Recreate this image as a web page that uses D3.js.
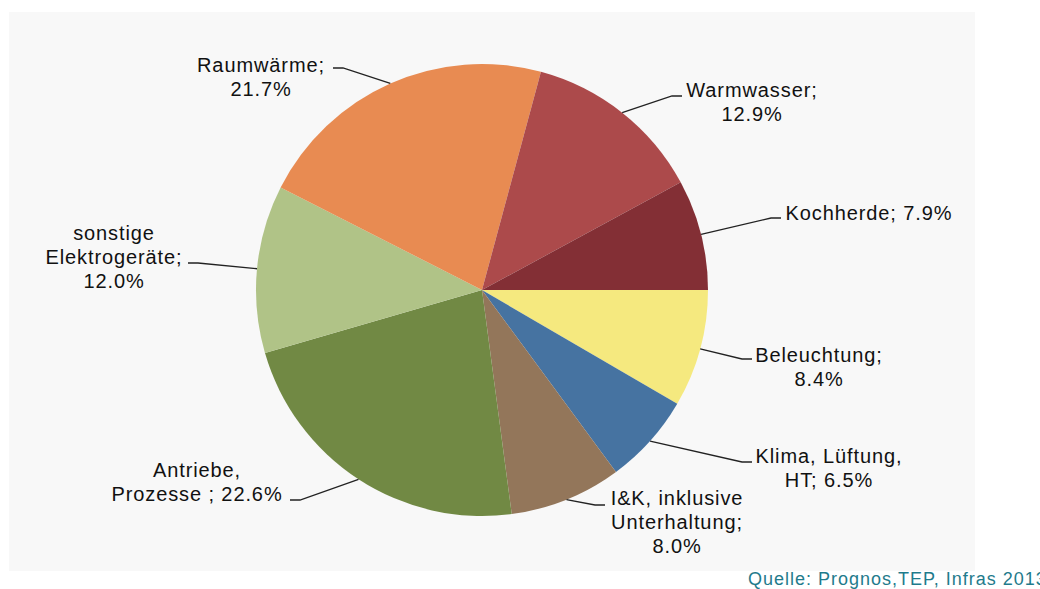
<!DOCTYPE html>
<html>
<head>
<meta charset="utf-8">
<script src="https://cdn.jsdelivr.net/npm/d3@7"></script>
<style>
  body { margin: 0; background: #fff; }
  svg text { font-family: "Liberation Sans", Arial, sans-serif; }
</style>
</head>
<body>
<svg></svg>
<script>
// data, clockwise from 3 o'clock
let categories = ["Beleuchtung", "Klima, Lüftung, HT", "I&K, inklusive Unterhaltung", "Antriebe, Prozesse",
                  "sonstige Elektrogeräte", "Raumwärme", "Warmwasser", "Kochherde"],
    shares     = [8.4, 6.5, 8.0, 22.6, 12.0, 21.7, 12.9, 7.9],
    labelText  = ["Beleuchtung;|{v}", "Klima, Lüftung,|HT; {v}", "I&K, inklusive|Unterhaltung;|{v}",
                  "Antriebe,|Prozesse ; {v}", "sonstige|Elektrogeräte;|{v}", "Raumwärme;|{v}",
                  "Warmwasser;|{v}", "Kochherde; {v}"],
    colors     = ["#f5e97f", "#4673a1", "#93765a", "#718944", "#b0c387", "#e88b52", "#ac4a4b", "#832f35"],
    source     = "Quelle: Prognos,TEP, Infras 2013";

// label layout: centre x, first baseline, leader end point, elbow side
let labelPos = [
  {x: 819, y: 362, ex: 752, ey: 359, side: -1},
  {x: 829, y: 463, ex: 752, ey: 462, side: -1},
  {x: 677, y: 505, ex: 605, ey: 505, side: -1},
  {x: 197, y: 477, ex: 290, ey: 500, side: 1},
  {x: 114, y: 240, ex: 188, ey: 263, side: 1},
  {x: 261, y: 72,  ex: 333, ey: 68,  side: 1},
  {x: 752, y: 97,  ex: 682, ey: 96,  side: -1},
  {x: 869, y: 220, ex: 781, ey: 218, side: -1}
];

let width = 1040, height = 589,
    cx = 482, cy = 290, radius = 226, lineHeight = 24,
    svg = d3.select("svg").attr("width", width).attr("height", height);

svg.append("rect")
  .attr("x", 9).attr("y", 12)
  .attr("width", 966).attr("height", 559)
  .attr("fill", "#f8f8f8");

let pie = d3.pie().sort(null)
      .startAngle(Math.PI / 2).endAngle(Math.PI / 2 + 2 * Math.PI),
    arc = d3.arc().innerRadius(0).outerRadius(radius),
    arcs = pie(shares),
    g = svg.append("g").attr("transform", `translate(${cx},${cy})`);

g.selectAll("path")
  .data(arcs)
  .enter()
  .append("path")
  .attr("d", arc)
  .attr("fill", (d, i) => colors[i]);

// leader lines: from the rim at the slice's mid angle to the label
svg.selectAll("polyline.leader")
  .data(arcs)
  .enter()
  .append("polyline")
  .classed("leader", true)
  .attr("points", (d, i) => {
    let a = (d.startAngle + d.endAngle) / 2,
        p = labelPos[i],
        px = cx + radius * Math.sin(a),
        py = cy - radius * Math.cos(a);
    return [[px, py], [p.ex - p.side * -10, p.ey], [p.ex, p.ey]].join(" ");
  })
  .attr("fill", "none")
  .attr("stroke", "#222")
  .attr("stroke-width", 1.3);

let labels = svg.selectAll("text.label")
  .data(arcs)
  .enter()
  .append("text")
  .classed("label", true)
  .attr("text-anchor", "middle")
  .attr("font-size", "20px")
  .attr("letter-spacing", "0.9px")
  .attr("fill", "#111");

labels.each(function (d, i) {
  let lines = labelText[i].replace("{v}", shares[i].toFixed(1) + "%").split("|");
  d3.select(this).selectAll("tspan")
    .data(lines)
    .enter()
    .append("tspan")
    .attr("x", labelPos[i].x)
    .attr("y", (l, j) => labelPos[i].y + j * lineHeight)
    .text(l => l);
});

svg.append("text")
  .attr("x", 748)
  .attr("y", 585)
  .attr("font-size", "18px")
  .attr("letter-spacing", "1px")
  .attr("fill", "#1f7b8c")
  .text(source);
</script>
</body>
</html>
